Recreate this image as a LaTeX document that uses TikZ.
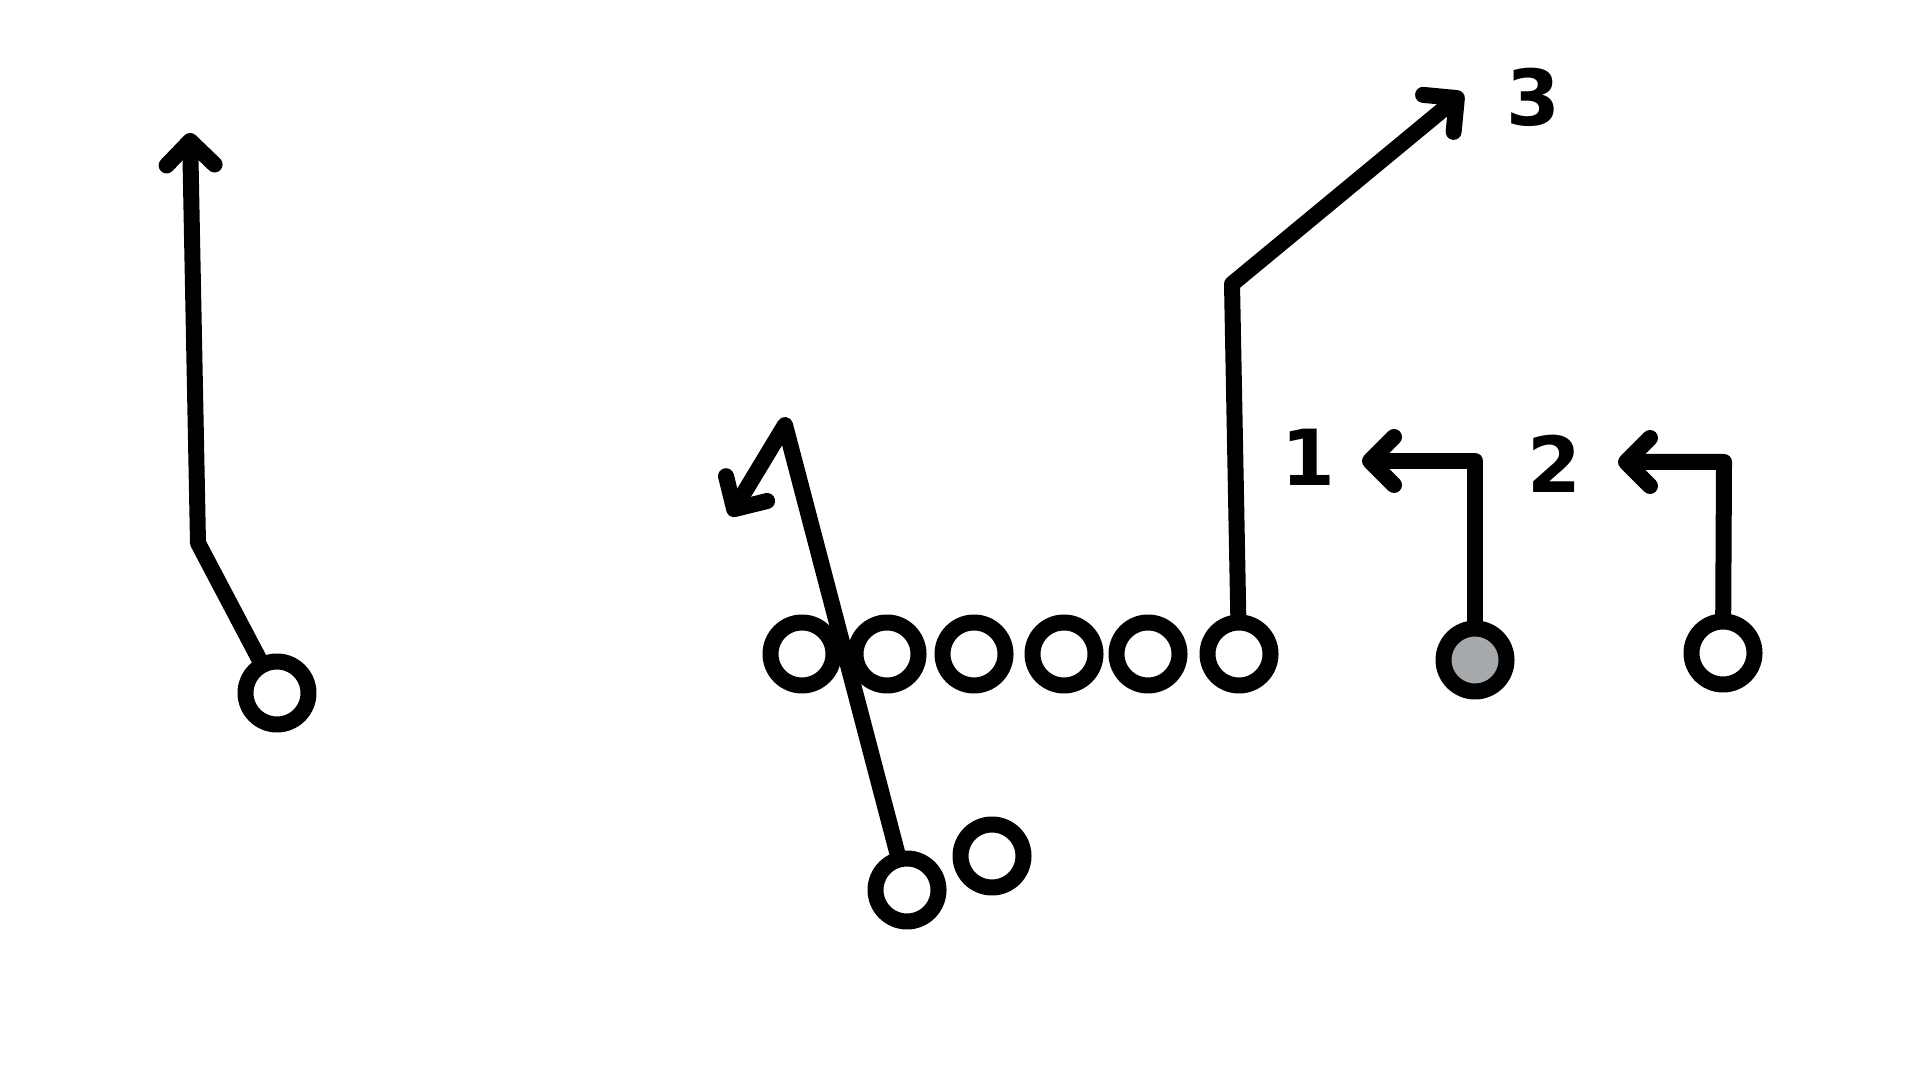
\documentclass[tikz,border=0pt]{standalone}
\usepackage{fontspec}
\setsansfont{DejaVu Sans}
\usetikzlibrary{arrows.meta}
\definecolor{slotgray}{RGB}{166,169,171}
\begin{document}
\begin{tikzpicture}[>={Straight Barb[length=0.24cm,width=0.48cm,round]},line join=round,line cap=round,
	player/.style={circle,draw,fill=white,line width=0.16cm,minimum size=0.63cm,inner sep=0pt},
	route/.style={line width=0.16cm,->},
	tag/.style={font=\sffamily\bfseries\fontsize{22}{22}\selectfont}]
	\useasboundingbox (0,0) rectangle (19.2,10.8);
	% line
	\node[player] (lt) at (8.02,4.26) {};
	\node[player] (lg) at (8.87,4.26) {};
	\node[player] (c) at (9.74,4.26) {};
	\node[player] (rg) at (10.64,4.26) {};
	\node[player] (rt) at (11.48,4.26) {};
	\node[player] (te) at (12.39,4.26) {};
	% backs and receivers
	\node[player] (hb) at (9.07,1.90) {};
	\node[player] (fb) at (9.92,2.24) {};
	\node[player] (wrx) at (2.77,3.87) {};
	\node[player,fill=slotgray] (slot) at (14.75,4.20) {};
	\node[player] (wrz) at (17.23,4.27) {};
	% routes
	\coordinate (xbend) at (1.98,5.37);
	\coordinate (xend) at (1.90,9.47);
	\draw[route] (wrx)--(xbend)--(xend);
	\coordinate (hbturn) at (7.85,6.55);
	\coordinate (hbend) at (7.30,5.64);
	\draw[route] (hb)--(hbturn)--(hbend);
	\coordinate (tebend) at (12.32,7.96);
	\coordinate (teend) at (14.63,9.87);
	\draw[route] (te)--(tebend)--(teend);
	\coordinate (slotbend) at (14.75,6.19);
	\coordinate (slotend) at (13.62,6.19);
	\draw[route] (slot)--(slotbend)--(slotend);
	\coordinate (zbend) at (17.24,6.18);
	\coordinate (zend) at (16.18,6.18);
	\draw[route] (wrz)--(zbend)--(zend);
	% numbers
	\node[tag] (n1) at (13.08,6.23) {1};
	\node[tag] (n2) at (15.54,6.16) {2};
	\node[tag] (n3) at (15.33,9.83) {3};
\end{tikzpicture}
\end{document}
